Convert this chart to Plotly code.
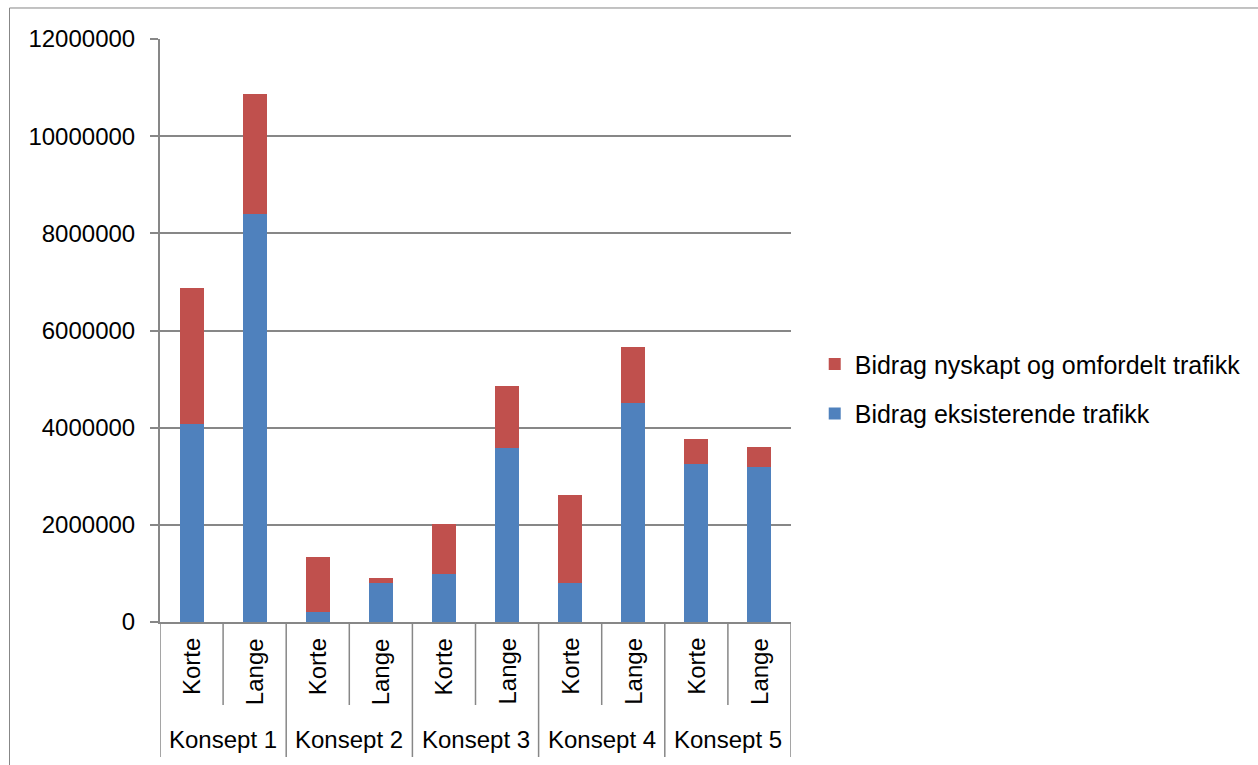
import plotly.graph_objects as go

# Konsept groups, each with a short ("Korte") and long ("Lange") variant
konsepter = ["Konsept 1", "Konsept 2", "Konsept 3", "Konsept 4", "Konsept 5"]
varianter = ["Korte", "Lange"]

# Contribution from existing traffic
eksisterende = [4070000, 8400000, 200000, 795000, 985000,
                3575000, 796000, 4515000, 3252000, 3184000]
# Contribution from newly generated and redistributed traffic
nyskapt = [2800000, 2470000, 1145000, 115000, 1035000,
           1283000, 1818000, 1152000, 515000, 411000]

y_ticks = [0, 2000000, 4000000, 6000000, 8000000, 10000000, 12000000]

BLUE = "#4F81BD"
RED = "#C0504D"
GREY = "#878787"
FONT = "Liberation Sans"
FS = 24

n_var = len(varianter)
positions = list(range(len(konsepter) * n_var))

fig = go.Figure()
fig.add_trace(go.Bar(
    x=positions, y=eksisterende, name="Bidrag eksisterende trafikk",
    marker=dict(color=BLUE, line=dict(width=0)), width=0.38,
    legendgroup="eksisterende", legendrank=2,
))
fig.add_trace(go.Bar(
    x=positions, y=nyskapt, name="Bidrag nyskapt og omfordelt trafikk",
    marker=dict(color=RED, line=dict(width=0)), width=0.38,
    legendgroup="nyskapt", legendrank=1,
))

shapes = []
annotations = []
# Inner category labels (rotated) and dividers between them
for gi, k in enumerate(konsepter):
    for vi, v in enumerate(varianter):
        p = gi * n_var + vi
        annotations.append(dict(
            x=p, y=-0.024, xref="x", yref="paper", text=v, showarrow=False,
            textangle=-90, font=dict(family=FONT, size=FS, color="black"),
            xanchor="center", yanchor="top",
        ))
        if vi > 0:
            shapes.append(dict(type="line", xref="x", yref="paper",
                               x0=p - 0.5, x1=p - 0.5, y0=0, y1=-0.1424,
                               line=dict(color=GREY, width=1.5)))
    annotations.append(dict(
        x=gi * n_var + (n_var - 1) / 2, y=-0.201, xref="x", yref="paper",
        text=k, showarrow=False, font=dict(family=FONT, size=FS, color="black"),
        xanchor="center", yanchor="middle",
    ))
# Group dividers run through both label rows
for gi in range(len(konsepter) + 1):
    xb = gi * n_var - 0.5
    shapes.append(dict(type="line", xref="x", yref="paper",
                       x0=xb, x1=xb, y0=0, y1=-0.2316,
                       line=dict(color=GREY, width=1.5)))

# Outer chart frame
shapes.append(dict(type="rect", xref="paper", yref="paper",
                   x0=-0.2385, x1=3, y0=-3, y1=1.0532,
                   line=dict(color=GREY, width=1), fillcolor="rgba(0,0,0,0)",
                   layer="below"))

fig.update_layout(
    width=1258, height=765,
    margin=dict(l=160, r=465, t=39, b=143),
    paper_bgcolor="white", plot_bgcolor="white",
    barmode="stack",
    font=dict(family=FONT, size=FS, color="black"),
    showlegend=True,
    legend=dict(
        x=1.0376, xanchor="left", xref="paper",
        y=0.40, yanchor="middle",
        traceorder="grouped", tracegroupgap=14,
        font=dict(family=FONT, size=25, color="black"),
        itemwidth=30, bgcolor="rgba(0,0,0,0)",
    ),
    xaxis=dict(
        range=[-0.5, len(positions) - 0.5], showticklabels=False,
        showgrid=False, zeroline=False, showline=True,
        linecolor=GREY, linewidth=2, ticks="",
    ),
    yaxis=dict(
        range=[0, 12000000], tickvals=y_ticks,
        ticktext=[str(v) for v in y_ticks],
        showgrid=True, gridcolor=GREY, gridwidth=2,
        zeroline=False, showline=True, linecolor=GREY, linewidth=2,
        ticks="outside", ticklen=8, tickcolor=GREY, tickwidth=2,
        ticklabelstandoff=10,
        tickfont=dict(family=FONT, size=FS, color="black"),
    ),
    shapes=shapes, annotations=annotations,
)

fig.write_html("out.html")
